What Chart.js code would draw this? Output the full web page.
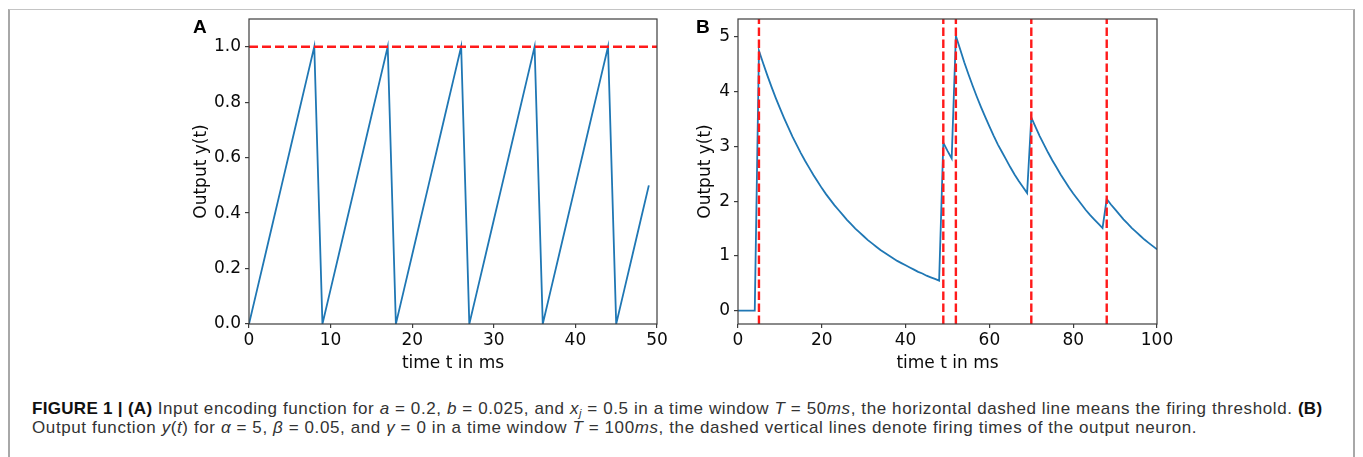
<!DOCTYPE html>
<html>
<head>
<meta charset="utf-8">
<script src="https://cdn.jsdelivr.net/npm/chart.js@4/dist/chart.umd.min.js"></script>
<style>
    body { margin: 0; background: #fff; width: 1363px; height: 457px; overflow: hidden; position: relative; }
    #frame { position: absolute; left: 8px; top: 9px; width: 1347px; height: 470px; border: 2px solid #a8a8a8; border-top: 1px solid #c4c4c4; box-sizing: border-box; }
    .wrap { position: absolute; top: 0; width: 500px; height: 380px; }
    #wrapA { left: 180px; }
    #wrapB { left: 680px; }
    .panel { position: absolute; font: bold 19px "Liberation Sans", Arial, sans-serif; line-height: 19px; color: #000; }
    #caption { position: absolute; left: 32px; top: 399px; font: 17px "Liberation Sans", Arial, sans-serif; line-height: 19px; letter-spacing: 0.6px; color: #333; white-space: nowrap; }
    #caption b { color: #111; letter-spacing: 0.3px; }
    #caption sub { font-size: 11px; line-height: 0; vertical-align: -3px; }
</style>
</head>
<body>
<div id="frame"></div>
<div class="wrap" id="wrapA"><canvas id="chartA" width="500" height="380"></canvas></div>
<div class="wrap" id="wrapB"><canvas id="chartB" width="500" height="380"></canvas></div>
<div class="panel" style="left:193px; top:17px;">A</div>
<div class="panel" style="left:696px; top:17px;">B</div>
<div id="caption">
<b>FIGURE 1 | (A)</b> Input encoding function for <i>a</i> = 0.2, <i>b</i> = 0.025, and <i>x<sub>j</sub></i> = 0.5 in a time window <i>T</i> = 50<i>ms</i>, the horizontal dashed line means the firing threshold. <b>(B)</b><br>
Output function <i>y</i>(<i>t</i>) for <i>α</i> = 5, <i>β</i> = 0.05, and <i>γ</i> = 0 in a time window <i>T</i> = 100<i>ms</i>, the dashed vertical lines denote firing times of the output neuron.
</div>

<script>
// Panel A: input encoding (1 ms steps)
const timeA = [0, 1, 2, 3, 4, 5, 6, 7, 8, 9, 10, 11, 12, 13, 14, 15, 16, 17, 18, 19,
    20, 21, 22, 23, 24, 25, 26, 27, 28, 29, 30, 31, 32, 33, 34, 35, 36, 37, 38, 39,
    40, 41, 42, 43, 44, 45, 46, 47, 48, 49];
const outputA = [0, 0.125, 0.25, 0.375, 0.5, 0.625, 0.75, 0.875, 1.0,
    0, 0.125, 0.25, 0.375, 0.5, 0.625, 0.75, 0.875, 1.0,
    0, 0.125, 0.25, 0.375, 0.5, 0.625, 0.75, 0.875, 1.0,
    0, 0.125, 0.25, 0.375, 0.5, 0.625, 0.75, 0.875, 1.0,
    0, 0.125, 0.25, 0.375, 0.5, 0.625, 0.75, 0.875, 1.0,
    0, 0.125, 0.25, 0.375, 0.5];
const thresholdA = 1.0;
const xTicksA = [0, 10, 20, 30, 40, 50];
const yTicksA = [0, 0.2, 0.4, 0.6, 0.8, 1.0];

// Panel B: output function
const timeB = [0, 1, 2, 3, 4, 5, 6, 7, 8, 9, 10, 11, 12, 13, 14, 15, 16, 17, 18, 19,
    20, 21, 22, 23, 24, 25, 26, 27, 28, 29, 30, 31, 32, 33, 34, 35, 36, 37, 38, 39,
    40, 41, 42, 43, 44, 45, 46, 47, 48, 49, 50, 51, 52, 53, 54, 55, 56, 57, 58, 59,
    60, 61, 62, 63, 64, 65, 66, 67, 68, 69, 70, 71, 72, 73, 74, 75, 76, 77, 78, 79,
    80, 81, 82, 83, 84, 85, 86, 87, 88, 89, 90, 91, 92, 93, 94, 95, 96, 97, 98, 99, 100];
const outputB = [0, 0, 0, 0, 0,
    4.75, 4.52, 4.30, 4.09, 3.89, 3.70, 3.52, 3.35, 3.18, 3.03, 2.88, 2.74, 2.61, 2.48, 2.36,
    2.24, 2.13, 2.03, 1.93, 1.84, 1.75, 1.66, 1.58, 1.50, 1.43, 1.36, 1.29, 1.23, 1.17, 1.11,
    1.06, 1.01, 0.96, 0.91, 0.87, 0.83, 0.79, 0.75, 0.71, 0.68, 0.64, 0.61, 0.58, 0.55,
    3.07, 2.92, 2.78,
    5.02, 4.78, 4.54, 4.32, 4.11, 3.91, 3.72, 3.54, 3.37, 3.20, 3.04, 2.90, 2.76, 2.62, 2.49, 2.37, 2.26, 2.15,
    3.53, 3.36, 3.19, 3.04, 2.89, 2.75, 2.62, 2.49, 2.37, 2.25, 2.14, 2.04, 1.94, 1.84, 1.75, 1.67, 1.59, 1.51,
    2.04, 1.94, 1.85, 1.76, 1.67, 1.59, 1.51, 1.44, 1.37, 1.30, 1.24, 1.18, 1.12];
const fireTimesB = [5, 49, 52, 70, 88];
const xTicksB = [0, 20, 40, 60, 80, 100];
const yTicksB = [0, 1, 2, 3, 4, 5];

const BLUE = '#1f77b4';
const RED = '#ff1a1a';
const tickFont = { family: 'DejaVu Sans', size: 17 };

// draws the top/right spines too, like matplotlib
const boxPlugin = {
    id: 'box',
    afterDatasetsDraw(chart) {
        const { ctx, chartArea: a } = chart;
        ctx.save();
        ctx.strokeStyle = '#3c3c3c';
        ctx.lineWidth = 1.2;
        ctx.strokeRect(a.left, a.top, a.right - a.left, a.bottom - a.top);
        ctx.restore();
    }
};

function makeAxis(min, max, tickValues, title, size, isX, fmt, titlePad) {
    return {
        type: 'linear',
        min: min,
        max: max,
        afterBuildTicks: scale => { scale.ticks = tickValues.map(v => ({ value: v })); },
        afterFit: scale => { if (isX) scale.height = size; else scale.width = size; },
        grid: { display: true, drawOnChartArea: false, drawTicks: true, tickLength: 4, color: '#3c3c3c', lineWidth: 1.2 },
        border: { display: false },
        ticks: { color: '#0a0a0a', font: tickFont, padding: isX ? 2 : 4, maxRotation: 0, autoSkip: false, callback: fmt },
        title: { display: true, text: title, color: '#0a0a0a', font: tickFont, padding: titlePad }
    };
}

function makeChart(id, datasets, xAxis, yAxis, pad) {
    return new Chart(document.getElementById(id).getContext('2d'), {
        type: 'line',
        data: { datasets: datasets },
        options: {
            responsive: false,
            animation: false,
            devicePixelRatio: 1,
            layout: { padding: pad },
            plugins: { legend: { display: false }, tooltip: { enabled: false } },
            elements: { point: { radius: 0 }, line: { tension: 0 } },
            scales: { x: xAxis, y: yAxis }
        },
        plugins: [boxPlugin]
    });
}

// Panel A
makeChart('chartA', [
    {
        data: [{ x: 0, y: thresholdA }, { x: 50, y: thresholdA }],
        borderColor: RED, borderWidth: 2.4, borderDash: [9, 4], order: 0
    },
    {
        data: timeA.map((t, i) => ({ x: t, y: outputA[i] })),
        borderColor: BLUE, borderWidth: 1.8, order: 1
    }
],
    makeAxis(0, 50, xTicksA, 'time t in ms', 56, true, v => v, { top: 0, bottom: 6 }),
    makeAxis(0, 1.1, yTicksA, 'Output y(t)', 69, false, v => v.toFixed(1), { top: 11, bottom: 0 }),
    { left: 0, right: 23, top: 19, bottom: 0 });

// Panel B
const yMinB = -0.243, yMaxB = 5.33;
const fireSets = fireTimesB.map(t => ({
    data: [{ x: t, y: yMinB }, { x: t, y: yMaxB }],
    borderColor: RED, borderWidth: 2.4, borderDash: [8.5, 3.5], order: 0
}));
makeChart('chartB', fireSets.concat([
    {
        data: timeB.map((t, i) => ({ x: t, y: outputB[i] })),
        borderColor: BLUE, borderWidth: 1.8, order: 1
    }
]),
    makeAxis(0, 100, xTicksB, 'time t in ms', 56, true, v => v, { top: 0, bottom: 6 }),
    makeAxis(yMinB, yMaxB, yTicksB, 'Output y(t)', 58, false, v => v, { top: 15, bottom: 0 }),
    { left: 0, right: 23, top: 19, bottom: 0 });
</script>
</body>
</html>
